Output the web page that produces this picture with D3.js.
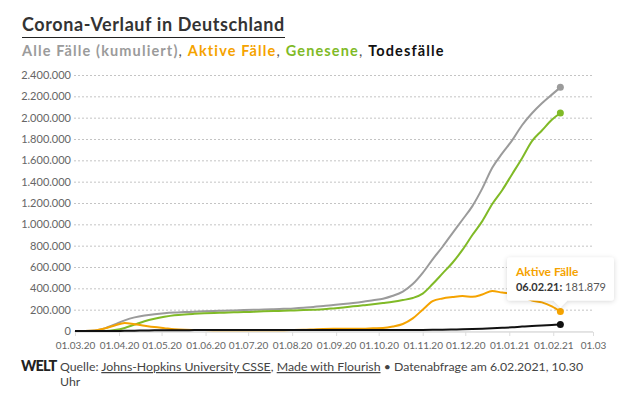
<!DOCTYPE html>
<html lang="de">
  <head>
    <meta charset="UTF-8" />
    <title>Corona-Verlauf in Deutschland</title>
    <script src="https://d3js.org/d3.v7.min.js"></script>
    <style>
      body {
        margin: 0;
        background: #fff;
        font-family: Lato, "Open Sans", sans-serif;
      }
      .tick text {
        fill: #666;
      }
    </style>
  </head>
  <body>
    <script>
      // weekly readings (Sundays) plus the last day, 06.02.21
      const dates = [
        "2020-03-01", "2020-03-08", "2020-03-15", "2020-03-22", "2020-03-29",
        "2020-04-05", "2020-04-12", "2020-04-19", "2020-04-26", "2020-05-03",
        "2020-05-10", "2020-05-17", "2020-05-24", "2020-05-31", "2020-06-07",
        "2020-06-14", "2020-06-21", "2020-06-28", "2020-07-05", "2020-07-12",
        "2020-07-19", "2020-07-26", "2020-08-02", "2020-08-09", "2020-08-16",
        "2020-08-23", "2020-08-30", "2020-09-06", "2020-09-13", "2020-09-20",
        "2020-09-27", "2020-10-04", "2020-10-11", "2020-10-18", "2020-10-25",
        "2020-11-01", "2020-11-08", "2020-11-15", "2020-11-22", "2020-11-29",
        "2020-12-06", "2020-12-13", "2020-12-20", "2020-12-27", "2021-01-03",
        "2021-01-10", "2021-01-17", "2021-01-24", "2021-01-31", "2021-02-06"
      ];

      const alleFaelle = [
        130, 1040, 5800, 25000, 62000, 100000, 128000, 146000, 158000, 167000,
        173000, 177000, 181000, 185000, 188000, 190000, 193000, 196000, 199000, 201000,
        204000, 208000, 212000, 218000, 226000, 234000, 244000, 253000, 263000, 275000,
        289000, 303000, 330000, 370000, 440000, 545000, 672000, 790000, 918000, 1043000,
        1171000, 1337000, 1530000, 1665000, 1787000, 1929000, 2041000, 2135000, 2216000, 2284000
      ];

      const aktiveFaelle = [
        110, 1000, 5700, 24500, 52000, 76000, 64000, 50000, 37000, 27000,
        17000, 12000, 10000, 8500, 7500, 6500, 7500, 8000, 8000, 6500,
        7000, 8000, 9000, 11000, 15000, 19000, 21000, 20000, 20000, 21000,
        25000, 28000, 42000, 66000, 118000, 200000, 280000, 305000, 318000, 328000,
        320000, 342000, 375000, 360000, 350000, 320000, 285000, 268000, 230000, 181879
      ];

      const genesene = [
        16, 16, 46, 266, 9200, 28700, 60300, 91500, 114500, 132700,
        147200, 155700, 161200, 165600, 169200, 172200, 175300, 177800, 180300, 184000,
        186700, 189700, 192500, 196000, 199400, 203800, 212000, 221000, 231000, 240500,
        250700, 262000, 274000, 290000, 310000, 350000, 440000, 540000, 640000, 760000,
        900000, 1030000, 1190000, 1320000, 1470000, 1620000, 1780000, 1880000, 1980000, 2044000
      ];

      const todesfaelle = [
        0, 0, 13, 94, 533, 1584, 2969, 4586, 5976, 6831,
        7549, 7928, 8283, 8500, 8685, 8851, 8895, 8961, 9020, 9071,
        9090, 9124, 9153, 9197, 9236, 9269, 9298, 9329, 9368, 9409,
        9460, 9534, 9621, 9789, 10056, 10530, 11289, 12547, 14112, 16123,
        18772, 21787, 26275, 30126, 34574, 41577, 46633, 51870, 57120, 61286
      ];

      const yTicks = [0, 200000, 400000, 600000, 800000, 1000000, 1200000,
        1400000, 1600000, 1800000, 2000000, 2200000, 2400000];

      const seriesNames = ["Alle Fälle (kumuliert)", "Aktive Fälle", "Genesene", "Todesfälle"];
      const seriesColors = ["#9b9b9b", "#f5a300", "#80ba27", "#111111"];

      const width = 639;
      const height = 395;
      const margin = { top: 75, right: 46, bottom: 64, left: 74 };

      const svg = d3
        .select("body")
        .append("svg")
        .attr("width", width)
        .attr("height", height);

      // shrink/grow a text's font size so it spans the wanted width
      function fitText(sel, wanted) {
        const fs = parseFloat(sel.attr("font-size"));
        const w = sel.node().getComputedTextLength();
        sel.attr("font-size", (fs * wanted / w).toFixed(2));
      }
      // or keep the size and open up the letter spacing instead
      function fitSpacing(sel, wanted) {
        const n = sel.text().length;
        const w = sel.node().getComputedTextLength();
        sel.attr("letter-spacing", ((wanted - w) / n).toFixed(2));
      }

      const parseDate = d3.timeParse("%Y-%m-%d");
      const days = dates.map(parseDate);

      const x = d3
        .scaleTime()
        .domain([parseDate("2020-03-01"), parseDate("2021-03-01")])
        .range([margin.left + 1, width - margin.right]);

      const y = d3
        .scaleLinear()
        .domain([0, 2400000])
        .range([height - margin.bottom, margin.top]);

      const de = d3.formatLocale({ decimal: ",", thousands: ".", grouping: [3], currency: ["", " €"] });
      const fmt = de.format(",d");

      // title
      const title = svg.append("text")
        .attr("x", 22)
        .attr("y", 31)
        .attr("font-size", 18)
        .attr("font-weight", 700)
        .attr("fill", "#333")
        .text("Corona-Verlauf in Deutschland");
      fitSpacing(title, 263);
      svg.append("line")
        .attr("x1", 22).attr("x2", 285)
        .attr("y1", 37.5).attr("y2", 37.5)
        .attr("stroke", "#222").attr("stroke-width", 1.2);

      // subtitle acting as legend
      const sub = svg.append("text")
        .attr("x", 22)
        .attr("y", 56)
        .attr("font-size", 14.5)
        .attr("font-weight", 700);
      seriesNames.forEach((name, i) => {
        sub.append("tspan").attr("fill", seriesColors[i]).text(name);
        if (i < seriesNames.length - 1) {
          sub.append("tspan").attr("fill", "#555").attr("font-weight", 400).text(", ");
        }
      });
      fitSpacing(sub, 423);

      // y grid + labels
      const yAxis = svg.append("g")
        .attr("transform", `translate(${margin.left},0)`)
        .call(
          d3.axisLeft(y)
            .tickValues(yTicks)
            .tickFormat(fmt)
            .tickSize(-(width - margin.left - margin.right))
            .tickPadding(3)
        );
      yAxis.select(".domain").remove();
      yAxis.selectAll(".tick line")
        .attr("stroke", "#c4c4c4")
        .attr("stroke-dasharray", "2,2")
        .filter((d) => d === 0)
        .attr("stroke", "#e2e2e2")
        .attr("stroke-dasharray", null);
      yAxis.selectAll(".tick text")
        .attr("font-size", 11)
        .attr("font-family", "Lato, sans-serif");

      // x axis
      const xTickFmt = d3.timeFormat("%d.%m.%y");
      const xAxis = svg.append("g")
        .attr("transform", `translate(0,${height - margin.bottom + 1})`)
        .call(
          d3.axisBottom(x)
            .ticks(d3.timeMonth.every(1))
            .tickSize(4)
            .tickPadding(6)
            .tickFormat((d, i, arr) => (i === arr.length - 1 ? "01.03" : xTickFmt(d)))
        );
      xAxis.select(".domain").attr("stroke", "#e6e6e6");
      xAxis.selectAll(".tick line").attr("stroke", "#ddd");
      xAxis.selectAll(".tick text")
        .attr("font-size", 10)
        .attr("font-family", "Lato, sans-serif");

      // lines
      const allSeries = [alleFaelle, aktiveFaelle, genesene, todesfaelle];
      const line = d3
        .line()
        .x((d, i) => x(days[i]))
        .y((d) => y(d))
        .curve(d3.curveMonotoneX);

      // draw order: grey, green, orange, black on top
      [0, 2, 1, 3].forEach((k) => {
        svg.append("path")
          .datum(allSeries[k])
          .attr("fill", "none")
          .attr("stroke", seriesColors[k])
          .attr("stroke-width", 2)
          .attr("stroke-linejoin", "round")
          .attr("d", line);
      });

      const last = days.length - 1;
      allSeries.forEach((s, k) => {
        svg.append("circle")
          .attr("cx", x(days[last]))
          .attr("cy", y(s[last]))
          .attr("r", 3.5)
          .attr("fill", seriesColors[k]);
      });

      // tooltip for the active cases
      const px = x(days[last]);
      const py = y(aktiveFaelle[last]);
      const tipW = 107, tipH = 43;
      const tipX = 507, tipY = py - 11 - tipH;
      const defs = svg.append("defs");
      const flt = defs.append("filter").attr("id", "shadow")
        .attr("x", "-20%").attr("y", "-30%").attr("width", "140%").attr("height", "160%");
      flt.append("feDropShadow")
        .attr("dx", 0).attr("dy", 1).attr("stdDeviation", 2.5)
        .attr("flood-color", "#000").attr("flood-opacity", 0.16);
      const tip = svg.append("g").attr("filter", "url(#shadow)");
      tip.append("path")
        .attr("fill", "#fff")
        .attr("d",
          `M${tipX},${tipY + 3} Q${tipX},${tipY} ${tipX + 3},${tipY}` +
          ` H${tipX + tipW - 3} Q${tipX + tipW},${tipY} ${tipX + tipW},${tipY + 3}` +
          ` V${tipY + tipH - 3} Q${tipX + tipW},${tipY + tipH} ${tipX + tipW - 3},${tipY + tipH}` +
          ` H${px + 7} L${px},${tipY + tipH + 7} L${px - 7},${tipY + tipH}` +
          ` H${tipX + 3} Q${tipX},${tipY + tipH} ${tipX},${tipY + tipH - 3} Z`);
      svg.append("text")
        .attr("x", tipX + 9)
        .attr("y", tipY + 18)
        .attr("font-size", 12)
        .attr("font-weight", 700)
        .attr("fill", seriesColors[1])
        .text(seriesNames[1]);
      const tipLine = svg.append("text")
        .attr("x", tipX + 9)
        .attr("y", tipY + 33)
        .attr("font-size", 12);
      tipLine.append("tspan").attr("font-weight", 700).attr("fill", "#333")
        .text(d3.timeFormat("%d.%m.%y")(days[last]) + ":");
      tipLine.append("tspan").attr("fill", "#555").text(" " + fmt(aktiveFaelle[last]));
      fitText(tipLine, 90);

      // footer
      svg.append("text")
        .attr("x", 21)
        .attr("y", 371)
        .attr("font-size", 14.5)
        .attr("font-weight", 900)
        .attr("letter-spacing", -0.8)
        .attr("fill", "#222")
        .text("WELT");
      const foot = svg.append("text")
        .attr("x", 60)
        .attr("y", 371)
        .attr("font-size", 12.5)
        .attr("fill", "#444");
      foot.append("tspan").text("Quelle: ");
      foot.append("tspan").attr("text-decoration", "underline").text("Johns-Hopkins University CSSE");
      foot.append("tspan").text(", ");
      foot.append("tspan").attr("text-decoration", "underline").text("Made with Flourish");
      foot.append("tspan").text(" • Datenabfrage am 6.02.2021, 10.30");
      const fs = parseFloat(foot.attr("font-size"));
      const firstLine = foot.node().getComputedTextLength();
      foot.attr("font-size", (fs * 523 / firstLine).toFixed(2));
      foot.append("tspan").attr("x", 60).attr("dy", 15).text("Uhr");
    </script>
  </body>
</html>
